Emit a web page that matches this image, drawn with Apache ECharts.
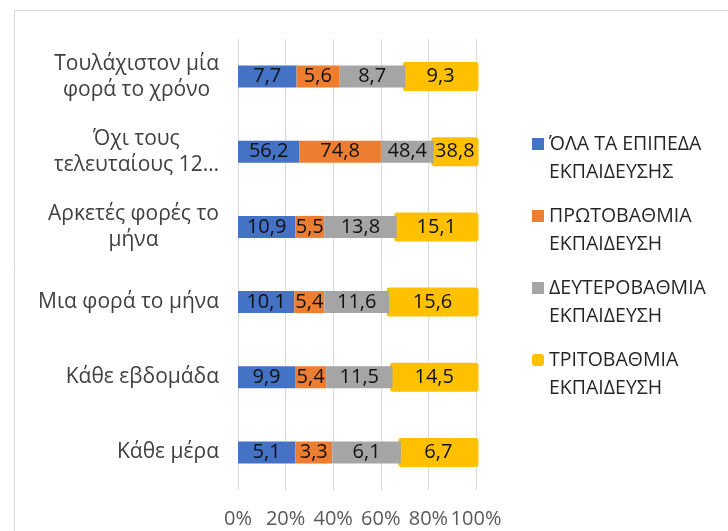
<!DOCTYPE html>
<html>
<head>
<meta charset="utf-8">
<script src="https://cdn.jsdelivr.net/npm/echarts@6/dist/echarts.min.js"></script>
<style>
html,body{margin:0;padding:0;background:#fff;}
#chart{width:728px;height:531px;}
</style>
</head>
<body>
<div id="chart"></div>
<script>
const categories = [
  'Τουλάχιστον μία\nφορά το χρόνο',
  'Όχι τους\nτελευταίους 12…',
  'Αρκετές φορές το\nμήνα',
  'Μια φορά το μήνα',
  'Κάθε εβδομάδα',
  'Κάθε μέρα'
];
const seriesNames = [
  'ΌΛΑ ΤΑ ΕΠΙΠΕΔΑ ΕΚΠΑΙΔΕΥΣΗΣ',
  'ΠΡΩΤΟΒΑΘΜΙΑ ΕΚΠΑΙΔΕΥΣΗ',
  'ΔΕΥΤΕΡΟΒΑΘΜΙΑ ΕΚΠΑΙΔΕΥΣΗ',
  'ΤΡΙΤΟΒΑΘΜΙΑ ΕΚΠΑΙΔΕΥΣΗ'
];
const allLevels = [7.7, 56.2, 10.9, 10.1, 9.9, 5.1];
const primary   = [5.6, 74.8, 5.5, 5.4, 5.4, 3.3];
const secondary = [8.7, 48.4, 13.8, 11.6, 11.5, 6.1];
const tertiary  = [9.3, 38.8, 15.1, 15.6, 14.5, 6.7];
const xTicks = [0, 20, 40, 60, 80, 100];

const colors = ['#4472C4', '#ED7D31', '#A5A5A5', '#FFC000'];
const raw = [allLevels, primary, secondary, tertiary];
const totals = categories.map((c, i) => raw.reduce((s, arr) => s + arr[i], 0));
const fmt = v => v.toFixed(1).replace('.', ',');
const labelFont = 'Open Sans';

// first three series: ordinary 100% stacked bars
const series = raw.slice(0, 3).map((arr, si) => ({
  name: seriesNames[si],
  type: 'bar',
  stack: 'total',
  barWidth: 22,
  data: arr.map((v, i) => ({ value: v / totals[i] * 100, raw: v })),
  itemStyle: { color: colors[si] },
  label: {
    show: true,
    position: 'inside',
    fontFamily: labelFont,
    fontSize: 20,
    color: '#111',
    formatter: p => fmt(p.data.raw)
  },
  emphasis: { disabled: true },
  silent: true
}));

// last series: the segment from the end of the stack to 100%, drawn as a slightly larger rounded box
const tertiaryData = tertiary.map((v, i) => {
  const start = (allLevels[i] + primary[i] + secondary[i]) / totals[i] * 100;
  const end = start + v / totals[i] * 100;
  return [i, start, end, v];
});
series.push({
  name: seriesNames[3],
  type: 'custom',
  itemStyle: { color: colors[3] },
  encode: { y: 0, x: [1, 2] },
  data: tertiaryData,
  silent: true,
  renderItem: (params, api) => {
    const cat = api.value(0);
    const p0 = api.coord([api.value(1), cat]);
    const p1 = api.coord([api.value(2), cat]);
    const h = 29;
    return {
      type: 'rect',
      shape: { x: p0[0] - 2.5, y: p0[1] - h / 2, width: p1[0] - p0[0] + 5, height: h, r: 3 },
      style: { fill: colors[3] },
      textContent: {
        style: { text: fmt(api.value(3)), fontFamily: labelFont, fontSize: 20, fill: '#111' }
      },
      textConfig: { position: 'inside' }
    };
  }
});

const chart = echarts.init(document.getElementById('chart'), null, { renderer: 'canvas' });
chart.setOption({
  animation: false,
  backgroundColor: '#fff',
  grid: { left: 238, right: 252, top: 39, bottom: 41, containLabel: false },
  xAxis: {
    type: 'value',
    min: xTicks[0],
    max: xTicks[xTicks.length - 1],
    interval: xTicks[1] - xTicks[0],
    axisLine: { show: false },
    axisTick: { show: false },
    splitLine: { show: true, lineStyle: { color: '#D9D9D9', width: 1 } },
    axisLabel: {
      margin: 19,
      fontFamily: 'Open Sans',
      fontSize: 20,
      color: '#595959',
      formatter: '{value}%'
    }
  },
  yAxis: {
    type: 'category',
    inverse: true,
    data: categories,
    axisLine: { show: false },
    axisTick: { show: false },
    axisLabel: {
      margin: 19,
      formatter: v => v.split('\n').map(l => '{c|' + l + '}').join('\n'),
      rich: {
        c: { align: 'center', fontFamily: 'Open Sans', fontSize: 21, color: '#404040', lineHeight: 26 }
      }
    }
  },
  legend: {
    orient: 'vertical',
    left: 527,
    top: 97,
    padding: 5,
    itemWidth: 12,
    itemHeight: 12,
    itemGap: -12,
    selectedMode: false,
    data: seriesNames.map((n, i) => ({ name: n, icon: i === 3 ? 'roundRect' : 'rect', itemStyle: { borderWidth: 0, color: colors[i] } })),
    formatter: n => {
      const k = n.lastIndexOf(' ');
      return '{t| }\n{t|' + n.slice(0, k) + '}\n{t|' + n.slice(k + 1) + '}';
    },
    textStyle: {
      fontFamily: 'Open Sans',
      fontSize: 19.5,
      color: '#262626',
      lineHeight: 28,
      rich: {
        t: { fontFamily: 'Open Sans', fontSize: 19.5, color: '#262626', lineHeight: 28 }
      }
    }
  },
  graphic: [{
    type: 'rect',
    shape: { x: 14.5, y: 10.5, width: 900, height: 700 },
    style: { fill: 'none', stroke: '#D9D9D9', lineWidth: 1 },
    silent: true
  }],
  series: series
});
</script>
</body>
</html>
